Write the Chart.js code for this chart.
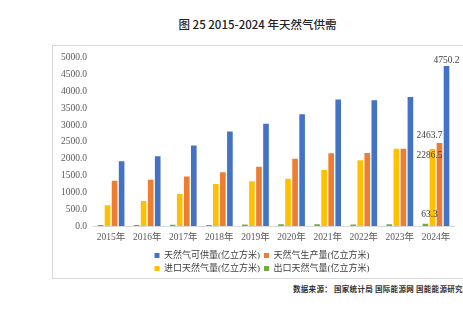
<!DOCTYPE html>
<html>
<head>
<meta charset="utf-8">
<script src="https://cdn.jsdelivr.net/npm/chart.js@4"></script>
<style>
  html, body { margin: 0; padding: 0; background: #fff; overflow: hidden; width: 463px; height: 326px; }
  #title {
    position: absolute; left: 52px; right: 0; top: 16px;
    text-align: center; font: 500 11.5px "Noto Sans CJK SC", sans-serif; color: #222;
  }
  #box {
    position: absolute; left: 52px; top: 45px; width: 430px; height: 232px;
    border: 1px solid #d9d9d9;
  }
  #source {
    position: absolute; left: 293px; top: 283px; white-space: nowrap;
    font: bold 7.5px "Noto Sans CJK SC", sans-serif; color: #333; letter-spacing: 0.3px;
  }
</style>
</head>
<body>
<div id="title">图 25 2015-2024 年天然气供需</div>
<div id="box"><canvas id="chart" width="430" height="237"></canvas></div>
<div id="source">数据来源：  国家统计局  国际能源网  国能能源研究院</div>
<script>
// 年份
const years = ["2015年", "2016年", "2017年", "2018年", "2019年", "2020年", "2021年", "2022年", "2023年", "2024年"];
// 各系列数据（亿立方米）
const exportGas = [30, 32, 40, 32, 45, 50, 52, 48, 55, 63.3];
const importGas = [620, 745, 950, 1250, 1330, 1405, 1665, 1955, 2295, 2286.5];
const production = [1345, 1372, 1472, 1598, 1762, 1995, 2158, 2168, 2295, 2463.7];
const supply = [1920, 2075, 2395, 2810, 3040, 3320, 3755, 3735, 3835, 4750.2];
const seriesNames = ["出口天然气量(亿立方米)", "进口天然气量(亿立方米)", "天然气生产量(亿立方米)", "天然气可供量(亿立方米)"];

const serif = '"Liberation Serif", "Noto Sans CJK SC", serif';

// 只在最后一年标注数值
const lastLabels = {
    id: "lastLabels",
    afterDatasetsDraw(chart) {
        const ctx = chart.ctx;
        const last = years.length - 1;
        const blue = chart.getDatasetMeta(3).data[last];
        const leftX = blue.x - 17;
        const offsets = [[leftX, -9], [leftX, 6], [leftX, -8], [blue.x, -6]];
        ctx.save();
        ctx.font = "9.5px " + serif;
        ctx.fillStyle = "#404040";
        ctx.textAlign = "center";
        ctx.textBaseline = "middle";
        chart.data.datasets.forEach((ds, i) => {
            const bar = chart.getDatasetMeta(i).data[last];
            ctx.fillText(ds.data[last].toFixed(1), offsets[i][0], bar.y + offsets[i][1]);
        });
        ctx.restore();
    }
};

// 图例两列换行
const legendWrap = {
    id: "legendWrap",
    afterInit(chart) {
        const legend = chart.legend;
        const update = legend.update.bind(legend);
        legend.update = (w, h, m) => update(Math.min(w, 235), h, m);
    },
    afterLayout(chart) {
        chart.legend.left = 0;
        chart.legend.right = 418;
    }
};

new Chart(document.getElementById("chart"), {
    type: "bar",
    data: {
        labels: years,
        datasets: [
            { label: seriesNames[0], data: exportGas, backgroundColor: "#70AD47" },
            { label: seriesNames[1], data: importGas, backgroundColor: "#FFC000" },
            { label: seriesNames[2], data: production, backgroundColor: "#ED7D31" },
            { label: seriesNames[3], data: supply, backgroundColor: "#4472C4" }
        ]
    },
    options: {
        responsive: false,
        animation: false,
        categoryPercentage: 0.78,
        barPercentage: 0.8,
        layout: { padding: { top: 0, right: 29, bottom: 0, left: 0 } },
        plugins: {
            legend: {
                position: "bottom",
                reverse: true,
                labels: {
                    boxWidth: 5,
                    boxHeight: 5,
                    padding: 4,
                    color: "#404040",
                    font: { family: serif, size: 9 }
                }
            },
            tooltip: { enabled: false }
        },
        scales: {
            x: {
                grid: { display: false, drawTicks: false },
                border: { color: "#d9d9d9" },
                ticks: { color: "#595959", padding: 6, font: { family: serif, size: 9.5 } },
                afterFit(scale) { scale.height = 21; }
            },
            y: {
                min: 0,
                max: 5000,
                grid: { display: false, drawTicks: false },
                border: { display: false },
                ticks: {
                    stepSize: 500,
                    color: "#595959",
                    padding: 6,
                    font: { family: serif, size: 9.5 },
                    callback: v => v.toFixed(1)
                },
                afterFit(scale) { scale.width = 40; }
            }
        }
    },
    plugins: [lastLabels, legendWrap]
});
</script>
</body>
</html>
